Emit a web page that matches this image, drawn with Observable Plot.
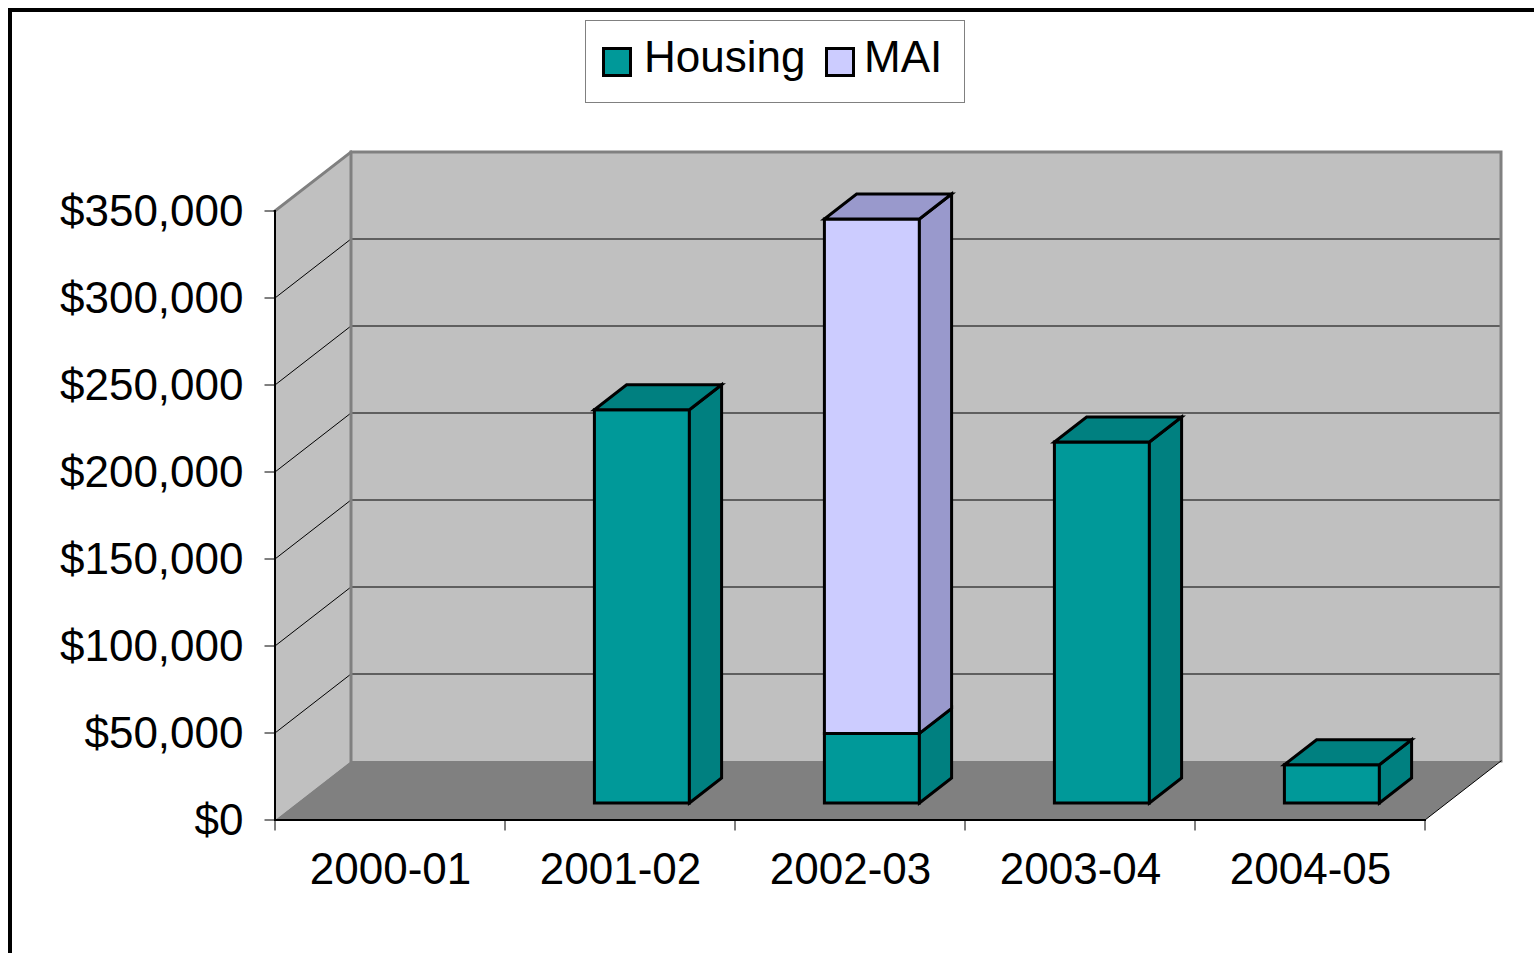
<!DOCTYPE html>
<html><head><meta charset="utf-8">
<script src="https://cdn.jsdelivr.net/npm/d3@7"></script>
<script src="https://cdn.jsdelivr.net/npm/@observablehq/plot@0.6"></script>
<style>
html,body{margin:0;padding:0;background:#fff;overflow:hidden;}
#wrap{position:relative;width:1534px;height:953px;font-family:"Liberation Sans",Arial,sans-serif;}
#border{position:absolute;left:8px;top:8px;width:2000px;height:2000px;border-left:4px solid #000;border-top:4px solid #000;pointer-events:none;box-sizing:border-box;}
#legend{position:absolute;left:585px;top:20px;width:378px;height:81px;border:1px solid #808080;background:#fff;}
.sw{position:absolute;top:26px;width:30px;height:30px;border:3px solid #000;box-sizing:border-box;}
.lt{position:absolute;top:14px;font-size:44px;line-height:44px;color:#000;white-space:nowrap;}
#chart svg{display:block;}
</style>
</head><body>
<div id="wrap">
  <div id="chart"></div>
  <div id="legend"></div>
  <div id="border"></div>
</div>
<script>
// ---- data ----
const categories = ["2000-01", "2001-02", "2002-03", "2003-04", "2004-05"];
const seriesNames = ["Housing", "MAI"];
const housing = [0, 226000, 40000, 207500, 22000];
const mai = [0, 0, 295600, 0, 0];
const yTicks = [0, 50000, 100000, 150000, 200000, 250000, 300000, 350000];

// ---- styles ----
const colors = {
  Housing: {front: "#009999", side: "#008080"},
  MAI: {front: "#CCCCFF", side: "#9999CC"}
};
const DX = 76, DY = -59;          // full-depth oblique offset (px)
const F0 = 17 / 59, F1 = 42 / 59; // bar front/back depth fractions
const PAD = 0.2935;               // band padding on each side

const n = categories.length;
const yMax = yTicks[yTicks.length - 1];

// stacked segments
const values = {Housing: housing, MAI: mai};
const segments = [];
categories.forEach((c, i) => {
  let base = 0;
  let last = null;
  seriesNames.forEach(s => {
    const v = values[s][i];
    if (v > 0) {
      last = {cat: c, i, series: s, y1: base, y2: base + v, top: false};
      segments.push(last);
      base += v;
    }
  });
  if (last) last.top = true;
});

function shapes(build) {
  return (index, scales) => {
    const sx = typeof scales.x === "function" ? scales.x : scales.scales.x.scale;
    const sy = typeof scales.y === "function" ? scales.y : scales.scales.y.scale;
    const P = ([x, y, f = 0, ox = 0, oy = 0]) => [sx(x) + DX * f + ox, sy(y) + DY * f + oy];
    const g = d3.create("svg:g");
    for (const s of build()) {
      g.append("path")
        .attr("d", d3.line()(s.pts.map(P)) + (s.closed ? "Z" : ""))
        .attr("fill", s.fill || "none")
        .attr("stroke", s.stroke || "none")
        .attr("stroke-width", s.sw || 1)
        .attr("stroke-linejoin", "miter")
        .attr("stroke-linecap", "square");
    }
    return g.node();
  };
}

const walls = shapes(() => {
  const out = [];
  out.push({pts: [[0, 0, 1], [n, 0, 1], [n, yMax, 1], [0, yMax, 1]], closed: true, fill: "#C0C0C0"});
  out.push({pts: [[0, 0, 0], [0, yMax, 0], [0, yMax, 1], [0, 0, 1]], closed: true, fill: "#C0C0C0"});
  out.push({pts: [[0, 0, 0], [n, 0, 0], [n, 0, 1], [0, 0, 1]], closed: true, fill: "#808080"});
  for (const v of yTicks.slice(1, -1)) {
    out.push({pts: [[0, v, 1], [n, v, 1]], stroke: "#5F5F5F", sw: 2});
    out.push({pts: [[0, v, 0], [0, v, 1]], stroke: "#000", sw: 1});
  }
  out.push({pts: [[0, 0, 1], [0, yMax, 1], [n, yMax, 1], [n, 0, 1]], stroke: "#808080", sw: 3});
  out.push({pts: [[0, yMax, 0], [0, yMax, 1]], stroke: "#808080", sw: 3});
  out.push({pts: [[n, 0, 0], [n, 0, 1]], stroke: "#000", sw: 1});
  // axes
  out.push({pts: [[0, yMax, 0], [0, 0, 0], [n, 0, 0]], stroke: "#000", sw: 2});
  for (const v of yTicks) out.push({pts: [[0, v, 0, -10, 0], [0, v, 0, 0, 0]], stroke: "#000", sw: 1});
  for (let k = 0; k <= n; k++) out.push({pts: [[k, 0, 0, 0, 0], [k, 0, 0, 0, 10]], stroke: "#000", sw: 1});
  return out;
});

const bars = shapes(() => {
  const out = [];
  for (const s of segments) {
    const a = s.i + PAD, b = s.i + 1 - PAD;
    const c = colors[s.series];
    out.push({pts: [[a, s.y1, F0], [b, s.y1, F0], [b, s.y2, F0], [a, s.y2, F0]], closed: true, fill: c.front, stroke: "#000", sw: 3});
    out.push({pts: [[b, s.y1, F0], [b, s.y1, F1], [b, s.y2, F1], [b, s.y2, F0]], closed: true, fill: c.side, stroke: "#000", sw: 3});
    if (s.top) out.push({pts: [[a, s.y2, F0], [b, s.y2, F0], [b, s.y2, F1], [a, s.y2, F1]], closed: true, fill: c.side, stroke: "#000", sw: 3});
  }
  return out;
});

const plot = Plot.plot({
  width: 1534,
  height: 953,
  marginLeft: 275,
  marginRight: 109,
  marginTop: 211,
  marginBottom: 133,
  x: {domain: [0, n], axis: null},
  y: {domain: [0, yMax], axis: null},
  style: {background: "transparent", fontFamily: "'Liberation Sans', Arial, sans-serif", overflow: "visible"},
  marks: [
    walls,
    bars,
    Plot.text(yTicks, {x: 0, y: d => d, text: d => "$" + d3.format(",")(d), textAnchor: "end", dx: -32, fontSize: 44, fill: "#000"}),
    Plot.text(categories, {x: (d, i) => i + 0.5, y: 0, text: d => d, dy: 49, fontSize: 44, fill: "#000"})
  ]
});
document.getElementById("chart").appendChild(plot);

// legend
const legend = document.getElementById("legend");
const legendPos = [{sw: 16, tx: 58}, {sw: 239, tx: 278}];
seriesNames.forEach((s, k) => {
  const sw = document.createElement("div");
  sw.className = "sw";
  sw.style.left = legendPos[k].sw + "px";
  sw.style.background = colors[s].front;
  legend.appendChild(sw);
  const t = document.createElement("div");
  t.className = "lt";
  t.style.left = legendPos[k].tx + "px";
  t.textContent = s;
  legend.appendChild(t);
});
</script>
</body></html>
